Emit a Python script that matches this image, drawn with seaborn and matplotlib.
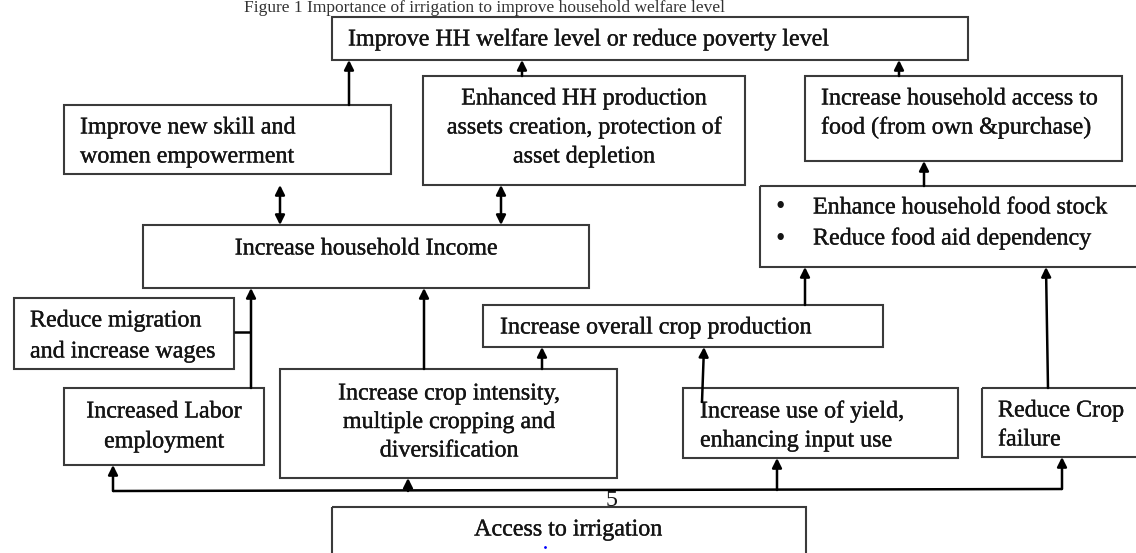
import matplotlib
matplotlib.use("Agg")
import matplotlib.pyplot as plt
import matplotlib.patheffects as pe
import seaborn as sns

# ==========================================
# 1. Diagram content
# ==========================================
caption = "Figure 1 Importance of irrigation to improve household welfare level"

labels = [
    "Improve HH welfare level or reduce poverty level",
    "Improve new skill and\nwomen empowerment",
    "Enhanced HH production\nassets creation, protection of\nasset depletion",
    "Increase household access to\nfood (from own &purchase)",
    "Enhance household food stock\nReduce food aid dependency",
    "Increase household Income",
    "Reduce migration\nand increase wages",
    "Increase overall crop production",
    "Increased Labor\nemployment",
    "Increase crop intensity,\nmultiple cropping and\ndiversification",
    "Increase use of yield,\nenhancing input use",
    "Reduce Crop\nfailure",
    "Access to irrigation",
]
page_number = "5"

# ==========================================
# 2. Layout (pixel space, y grows downwards)
# ==========================================
# box corners: x0, y0, x1, y1
boxes = [
    (332, 17, 968, 60),
    (64, 105, 391, 174),
    (423, 76, 745, 185),
    (805, 76, 1122, 161),
    (760, 186, 1140, 267),
    (143, 225, 589, 288),
    (14, 298, 234, 369),
    (483, 305, 883, 347),
    (64, 388, 264, 465),
    (280, 369, 617, 478),
    (683, 388, 958, 458),
    (982, 388, 1140, 457),
    (332, 507, 806, 600),
]
# text anchor x, first line y, line gap, alignment
text_pos = [
    (348, 40, 0, "left"),
    (80, 128, 29, "left"),
    (584, 99, 29, "center"),
    (821, 99, 29, "left"),
    (813, 208, 31, "bullet"),
    (366, 249, 0, "center"),
    (30, 321, 31, "left"),
    (500, 328, 0, "left"),
    (164, 412, 30, "center"),
    (449, 394, 28.5, "center"),
    (700, 412, 29, "left"),
    (998, 411, 29, "left"),
    (568, 530, 0, "center"),
]

# arrows: start -> end (head at end)
arrows = [
    ((349, 105), (349, 60)),
    ((522, 76), (522, 60)),
    ((899, 76), (899, 60)),
    ((924, 186), (924, 161)),
    ((251, 388), (251, 288)),
    ((424, 369), (424, 288)),
    ((542, 369), (542, 347)),
    ((702, 402), (704, 347)),
    ((805, 305), (805, 267)),
    ((1048, 388), (1046, 267)),
    ((113, 491), (113, 465)),
    ((408, 491), (408, 478)),
    ((777, 490), (777, 458)),
    ((1062, 489), (1062, 457)),
]
double_arrows = [
    ((280, 185), (280, 225)),
    ((501, 185), (501, 225)),
]
plain_lines = [
    ((234, 332), (251, 332)),
    ((113, 491), (1062, 489)),
]

# ==========================================
# 3. Drawing
# ==========================================
sns.set_theme(style="white")
plt.rcParams['font.family'] = ['Liberation Serif', 'DejaVu Serif']

fig = plt.figure(figsize=(11.36, 5.53), dpi=100)
ax = fig.add_axes([0, 0, 1, 1])
ax.set_xlim(0, 1136)
ax.set_ylim(553, 0)
ax.axis('off')

FS = 17.3
box_color = '#3a3a3a'
txt_color = '#141414'
heavy = [pe.withStroke(linewidth=0.25, foreground=txt_color)]

# caption at the very top of the page
ax.text(485, 0.5, caption, ha='center', va='top', fontsize=12.5, color='#333333')

for (x0, y0, x1, y1) in boxes:
    ax.add_patch(plt.Rectangle((x0, y0), x1 - x0, y1 - y0, fill=False,
                               edgecolor=box_color, lw=1.5))

for label, (tx, ty, gap, align) in zip(labels, text_pos):
    for i, line in enumerate(label.split("\n")):
        y = ty + i * gap
        if align == "bullet":
            ax.text(780, y, "\u2022", ha='center', va='center', fontsize=FS + 2,
                    color=txt_color)
            ax.text(tx, y, line, ha='left', va='center', fontsize=FS,
                    color=txt_color, path_effects=heavy)
        else:
            ax.text(tx, y, line, ha=align, va='center', fontsize=FS,
                    color=txt_color, path_effects=heavy)

for (p0, p1) in plain_lines:
    ax.plot([p0[0], p1[0]], [p0[1], p1[1]], color='black', lw=1.8, solid_capstyle='butt')

for (p0, p1) in arrows:
    ax.annotate('', xy=p1, xytext=p0,
                arrowprops=dict(arrowstyle='-|>', color='black', lw=1.8,
                                mutation_scale=14, shrinkA=0, shrinkB=0))

for (p0, p1) in double_arrows:
    ax.annotate('', xy=p1, xytext=p0,
                arrowprops=dict(arrowstyle='<|-|>', color='black', lw=1.8,
                                mutation_scale=14, shrinkA=0, shrinkB=0))

ax.text(612, 500, page_number, ha='center', va='center', fontsize=FS, color=txt_color)
ax.plot([545], [547], marker='.', markersize=2, color='blue')

fig.savefig('out.png', dpi=100)
